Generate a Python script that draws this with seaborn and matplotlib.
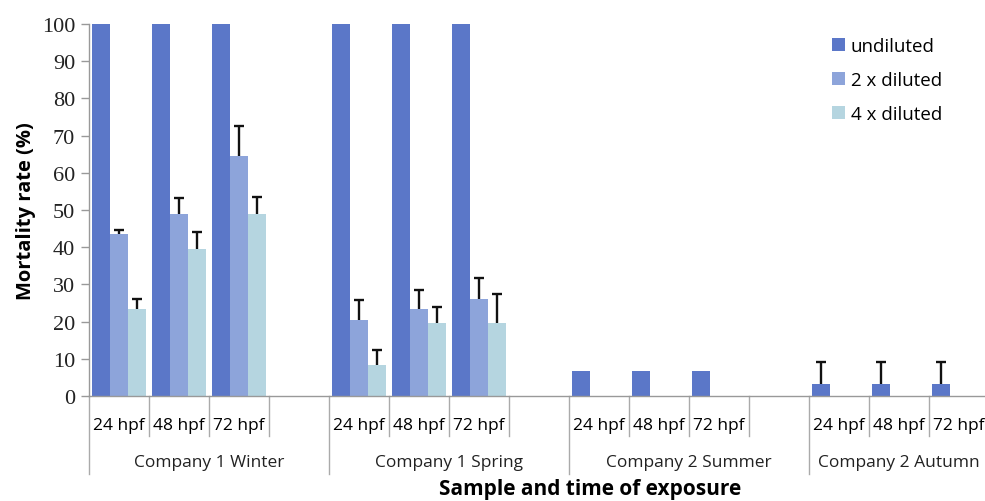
#%% imports
import numpy as np
import pandas as pd
import matplotlib
matplotlib.use('Agg')
import matplotlib.pyplot as plt
import matplotlib.transforms as mtransforms
import seaborn as sns

#%% data
groups = ['Company 1 Winter', 'Company 1 Spring', 'Company 2 Summer', 'Company 2 Autumn']
times = ['24 hpf', '48 hpf', '72 hpf']
dilutions = ['undiluted', '2 x diluted', '4 x diluted']

# values per group, listed by time (24, 48, 72 hpf)
undiluted = [100, 100, 100, 100, 100, 100, 6.7, 6.7, 6.7, 3.3, 3.3, 3.3]
diluted_2x = [43.5, 49, 64.5, 20.5, 23.3, 26, 0, 0, 0, 0, 0, 0]
diluted_4x = [23.3, 39.5, 49, 8.3, 19.5, 19.5, 0, 0, 0, 0, 0, 0]

# upper error (only the positive side is shown)
undiluted_err = [0, 0, 0, 0, 0, 0, 0, 0, 0, 5.9, 5.9, 5.9]
diluted_2x_err = [1.0, 4.2, 8.0, 5.2, 5.2, 5.8, 0, 0, 0, 0, 0, 0]
diluted_4x_err = [2.7, 4.5, 4.5, 4.0, 4.5, 8.0, 0, 0, 0, 0, 0, 0]

colors = {
  'undiluted': '#5b77c8',
  '2 x diluted': '#8da4da',
  '4 x diluted': '#b5d5e0',
}

#%% build long table (each group gets an empty fourth slot)
slots = []
for g in groups:
  for t in times:
    slots.append(f'{g}|{t}')
  slots.append(f'{g}|')

filled = [f'{g}|{t}' for g in groups for t in times]
values = {'undiluted': undiluted, '2 x diluted': diluted_2x, '4 x diluted': diluted_4x}
errors = {'undiluted': undiluted_err, '2 x diluted': diluted_2x_err, '4 x diluted': diluted_4x_err}

rows = []
for d in dilutions:
  for s, v in zip(filled, values[d]):
    rows.append({'slot': s, 'dilution': d, 'value': v})
df = pd.DataFrame(rows)

#%% plot
fig = plt.figure(figsize=(9.85, 5.02), dpi=100)
ax = fig.add_axes([89 / 985, 105 / 502, 960 / 985, 372 / 502])

sns.barplot(
  data=df, x='slot', y='value', hue='dilution',
  order=slots, hue_order=dilutions, palette=colors,
  width=0.9, errorbar=None, saturation=1, ax=ax,
)

# upper error bars, positioned from the drawn bars
for container, d in zip(ax.containers, dilutions):
  bars = sorted(container.patches, key=lambda b: b.get_x())
  for bar, err in zip(bars, errors[d]):
    if err > 0:
      xc = bar.get_x() + bar.get_width() / 2
      h = bar.get_height()
      ax.errorbar(xc, h, yerr=[[0], [err]], fmt='none', ecolor='#111111',
                  elinewidth=1.7, capsize=0, zorder=5)
      ax.plot(xc, h + err, marker='_', ms=7, mew=1.7, color='#111111', zorder=5)

ax.set_ylim(0, 100)
ax.set_xlim(-0.5, len(slots) - 0.5)
ax.set_yticks(np.arange(0, 101, 10))
ax.tick_params(axis='y', direction='out', length=6, color='#999999', width=1,
               labelsize=16, pad=4)
for lbl in ax.get_yticklabels():
  lbl.set_fontfamily('Liberation Serif')
  lbl.set_color('#222222')

ax.set_xticks(range(len(slots)))
ax.set_xticklabels([s.split('|')[1] for s in slots], fontsize=12.5, fontfamily='Open Sans')
ax.tick_params(axis='x', length=0, pad=15)

for side in ['top', 'right']:
  ax.spines[side].set_visible(False)
for side in ['left', 'bottom']:
  ax.spines[side].set_color('#999999')
  ax.spines[side].set_linewidth(1)

ax.set_xlabel('')
ax.set_ylabel('Mortality rate (%)', fontsize=14.5, fontweight='bold',
              fontfamily='Open Sans', labelpad=4)

# category dividers below the axis
trans = mtransforms.blended_transform_factory(ax.transData, ax.transAxes)
for i in range(len(slots) + 1):
  depth = -0.21 if i % 4 == 0 else -0.108
  ax.plot([i - 0.5, i - 0.5], [0, depth], color='#aaaaaa', lw=1,
          transform=trans, clip_on=False)

# group labels
for k, g in enumerate(groups):
  center = k * 4 + 1.5
  if k == len(groups) - 1:
    ax.text(k * 4 - 0.35, -0.178, g, transform=trans, ha='left', va='center',
            fontsize=12.5, fontfamily='Open Sans', color='#222222')
  else:
    ax.text(center, -0.178, g, transform=trans, ha='center', va='center',
            fontsize=12.5, fontfamily='Open Sans', color='#222222')

fig.text(590 / 985, 1 - 490 / 502, 'Sample and time of exposure', ha='center',
         va='center', fontsize=15, fontweight='bold', fontfamily='Open Sans')

ax.legend(
  loc='upper left', bbox_to_anchor=(815 / 985, 1 - 21 / 502),
  bbox_transform=fig.transFigure, frameon=False,
  handlelength=0.7, handleheight=0.7, handletextpad=0.3, labelspacing=0.85,
  prop={'family': 'Open Sans', 'size': 13.5},
)

fig.savefig('out.png', dpi=100)
